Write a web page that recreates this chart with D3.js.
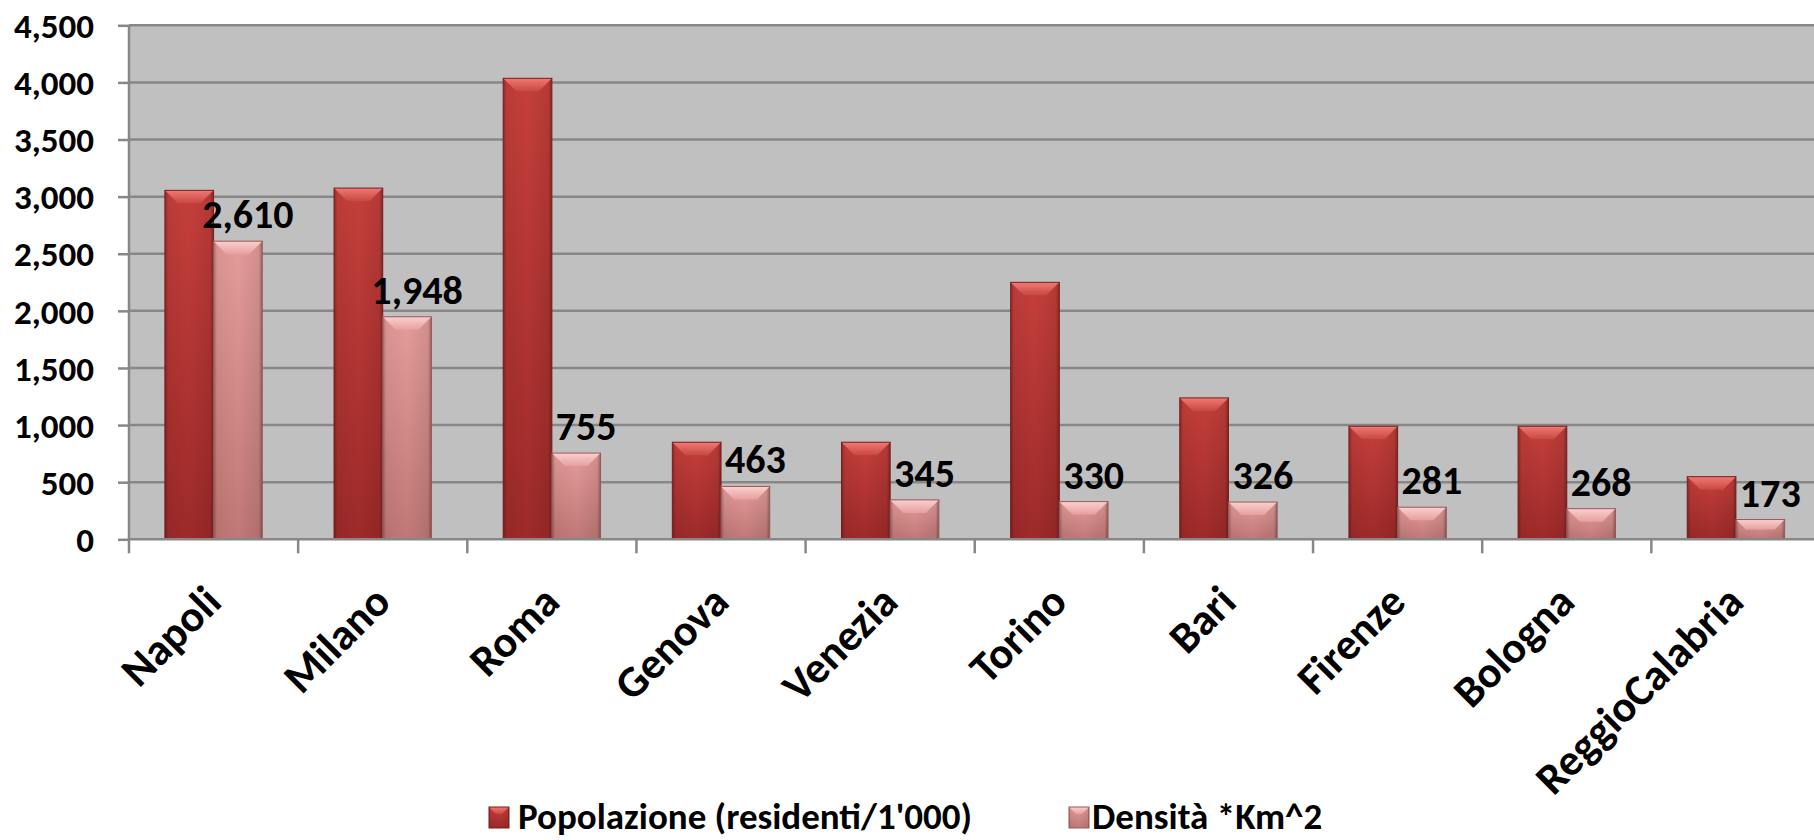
<!DOCTYPE html>
<html>
<head>
<meta charset="utf-8">
<script src="https://cdn.jsdelivr.net/npm/d3@7"></script>
<style>
  body { margin: 0; background: #ffffff; }
  svg text { font-family: Carlito, Lato, "Open Sans", sans-serif; font-weight: bold; fill: #000; }
</style>
</head>
<body>
<svg id="chart" width="1814" height="840"></svg>
<script>
// Chart data
const cities = ["Napoli", "Milano", "Roma", "Genova", "Venezia", "Torino", "Bari", "Firenze", "Bologna", "ReggioCalabria"];
const popolazione = [3055, 3075, 4036, 850, 850, 2250, 1238, 990, 990, 548];
const densita = [2610, 1948, 755, 463, 345, 330, 326, 281, 268, 173];
const seriesNames = ["Popolazione (residenti/1'000)", "Densità *Km^2"];
const yTicks = [0, 500, 1000, 1500, 2000, 2500, 3000, 3500, 4000, 4500];

var svg = d3.select("#chart");

// Plot area bounds
var plotLeft = 129, plotRight = 1820.5, plotTop = 25.3, plotBottom = 539.3;

// Scales
var x0 = d3.scaleBand().domain(cities).range([plotLeft, plotRight]).padding(0);
var x1 = d3.scaleBand().domain(["pop", "dens"]).range([0, x0.bandwidth()])
  .paddingInner(0).paddingOuter(0.737);
var y = d3.scaleLinear().domain([0, 4500]).range([plotBottom, plotTop]);

// Gradients for the bevelled bars
var defs = svg.append("defs");
function vGrad(id, c1, c2) {
  var g = defs.append("linearGradient").attr("id", id)
    .attr("x1", 0).attr("y1", 0).attr("x2", 0).attr("y2", 1);
  g.append("stop").attr("offset", "0%").attr("stop-color", c1);
  g.append("stop").attr("offset", "100%").attr("stop-color", c2);
}
vGrad("popBody", "#c53f3b", "#9d2a29");
vGrad("popTop", "#ef7a74", "#c94743");
vGrad("densBody", "#e59c9a", "#c07876");
vGrad("densTop", "#fbd0cf", "#e5a09e");

var side = defs.append("linearGradient").attr("id", "sideShade")
  .attr("x1", 0).attr("y1", 0).attr("x2", 1).attr("y2", 0);
[["0%", 0.3], ["7%", 0.05], ["50%", 0], ["93%", 0.08], ["100%", 0.35]].forEach(function (s) {
  side.append("stop").attr("offset", s[0]).attr("stop-color", "#000").attr("stop-opacity", s[1]);
});

var styles = {
  pop: { body: "url(#popBody)", top: "url(#popTop)", stroke: "#7a1d1d" },
  dens: { body: "url(#densBody)", top: "url(#densTop)", stroke: "#9a5856" }
};

// Draw one bevelled bar
function drawBar(g, bx, by, w, h, st, bevel) {
  var b = Math.min(bevel, h / 2, w / 2);
  g.append("rect").attr("x", bx).attr("y", by).attr("width", w).attr("height", h)
    .attr("fill", st.body);
  g.append("rect").attr("x", bx).attr("y", by).attr("width", w).attr("height", h)
    .attr("fill", "url(#sideShade)");
  g.append("polygon")
    .attr("points", [[bx, by], [bx + w, by], [bx + w - b, by + b], [bx + b, by + b]].join(" "))
    .attr("fill", st.top);
  g.append("rect").attr("x", bx).attr("y", by).attr("width", w).attr("height", h)
    .attr("fill", "none").attr("stroke", st.stroke).attr("stroke-width", 1);
}

// Plot background
svg.append("rect")
  .attr("x", plotLeft).attr("y", plotTop)
  .attr("width", plotRight - plotLeft).attr("height", plotBottom - plotTop)
  .attr("fill", "#c0c0c0");

// Gridlines
svg.append("g").selectAll("line")
  .data(yTicks.filter((d) => d > 0))
  .enter().append("line")
  .attr("x1", plotLeft).attr("x2", plotRight)
  .attr("y1", (d) => y(d)).attr("y2", (d) => y(d))
  .attr("stroke", "#878787").attr("stroke-width", 2.5);

// Bars
var barsG = svg.append("g");
cities.forEach(function (c, i) {
  var vals = [["pop", popolazione[i]], ["dens", densita[i]]];
  vals.forEach(function (v) {
    var bx = x0(c) + x1(v[0]);
    drawBar(barsG, bx, y(v[1]), x1.bandwidth(), y(0) - y(v[1]), styles[v[0]], 13);
  });
});

// Data labels for density
svg.append("g").selectAll("text")
  .data(cities)
  .enter().append("text")
  .attr("x", (d) => x0(d) + x1("dens") + x1.bandwidth() / 2 + 10)
  .attr("y", (d, i) => y(densita[i]) - 13)
  .attr("text-anchor", "middle")
  .attr("font-size", "40px")
  .text((d, i) => d3.format(",")(densita[i]));

// Y axis
var yAxis = svg.append("g")
  .attr("transform", "translate(" + plotLeft + ",0)")
  .call(d3.axisLeft(y).tickValues(yTicks).tickFormat(d3.format(",")).tickSize(11).tickPadding(24));
yAxis.select(".domain").attr("stroke", "#878787").attr("stroke-width", 2.5).attr("d", "M0," + plotTop + "V" + plotBottom);
yAxis.selectAll(".tick line").attr("stroke", "#878787").attr("stroke-width", 2.5);
yAxis.selectAll(".tick text").attr("font-size", "35px").attr("font-family", null).attr("dy", "0.35em");

// X axis line and boundary ticks
svg.append("line")
  .attr("x1", plotLeft).attr("x2", plotRight)
  .attr("y1", plotBottom).attr("y2", plotBottom)
  .attr("stroke", "#878787").attr("stroke-width", 2.5);
svg.append("g").selectAll("line")
  .data(cities)
  .enter().append("line")
  .attr("x1", (d) => x0(d)).attr("x2", (d) => x0(d))
  .attr("y1", plotBottom).attr("y2", plotBottom + 14)
  .attr("stroke", "#878787").attr("stroke-width", 2.5);

// Category labels, rotated
var xAxis = svg.append("g")
  .attr("transform", "translate(0," + plotBottom + ")")
  .call(d3.axisBottom(x0).tickSize(0));
xAxis.select(".domain").remove();
xAxis.selectAll(".tick text")
  .attr("font-size", "44px")
  .attr("font-family", null)
  .attr("x", 0).attr("y", 0).attr("dy", 0)
  .attr("text-anchor", "end")
  .attr("transform", "translate(10,65) rotate(-45)");

// Legend
var legend = svg.append("g");
var legendItems = [
  { key: "pop", icon: 489, text: 518 },
  { key: "dens", icon: 1069, text: 1092 }
];
legendItems.forEach(function (it, i) {
  drawBar(legend, it.icon, 807, 20, 21, styles[it.key], 7);
  legend.append("text")
    .attr("x", it.text).attr("y", 829)
    .attr("font-size", "37px")
    .text(seriesNames[i]);
});
</script>
</body>
</html>
